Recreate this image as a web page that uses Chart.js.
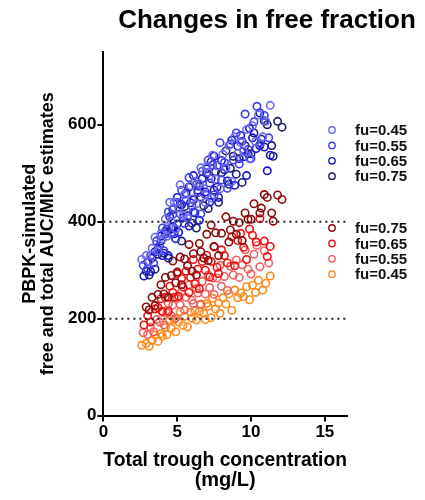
<!DOCTYPE html>
<html>
<head>
<meta charset="utf-8">
<script src="https://cdn.jsdelivr.net/npm/chart.js@4"></script>
<style>
  html, body { margin: 0; padding: 0; background: #fff; }
  #wrap { width: 425px; height: 500px; }
</style>
</head>
<body>
<div id="wrap"><canvas id="fuChart" width="425" height="500"></canvas></div>
<script>
// total trough concentration (mg/L) and AUC/MIC per simulated subject, one set per fu
var troughFu45 = [2.6,2.9,3.1,3.3,3.5,3.7,3.9,4.0,4.2,4.3,4.5,4.6,4.8,4.9,5.1,5.2,5.4,5.5,5.7,5.9,6.0,6.2,6.3,6.5,6.6,6.8,6.9,7.0,7.1,7.3,7.4,7.6,7.8,7.9,8.1,8.3,8.5,8.7,8.9,9.1,9.3,9.5,9.7,9.9,10.1,10.3,10.5,10.8,11.0,11.3];
var totalFu45  = [322,330,318,345,368,340,375,365,405,370,440,400,440,385,428,476,413,456,407,474,447,483,437,478,511,468,440,514,502,449,537,488,515,468,539,511,557,483,575,541,563,545,590,530,598,565,620,575,607,640];
var freeFu45   = [145,149,143,155,166,153,169,164,182,167,198,180,198,173,193,214,186,205,183,213,201,217,197,215,230,211,198,231,226,202,242,220,232,211,243,230,251,217,259,243,253,245,266,239,269,254,279,259,273,288];

var troughFu55 = [2.7,3.0,3.2,3.4,3.6,3.8,4.0,4.1,4.3,4.4,4.6,4.7,4.9,5.0,5.2,5.3,5.5,5.6,5.8,6.0,6.1,6.3,6.4,6.6,6.7,6.9,7.1,7.2,7.4,7.5,7.7,7.9,8.0,8.2,8.4,8.6,8.8,9.0,9.2,9.4,9.6,9.8,10.0,10.2,10.4,10.6,10.9,11.2];
var totalFu55  = [310,303,330,315,360,350,387,340,385,420,375,415,365,440,416,465,396,444,491,432,420,477,460,416,504,456,527,480,517,455,516,563,486,522,469,560,527,583,519,566,622,549,530,606,638,559,619,573];
var freeFu55   = [171,167,182,173,198,193,213,187,212,231,206,228,201,242,229,256,218,244,270,238,231,262,253,229,277,251,290,264,284,250,284,310,267,287,258,308,290,321,285,311,342,302,292,333,351,307,340,315];

var troughFu65 = [2.75,3.0,3.2,3.5,3.7,3.9,4.0,4.2,4.4,4.5,4.7,4.8,5.0,5.1,5.3,5.4,5.6,5.8,5.9,6.1,6.2,6.4,6.5,6.7,6.9,7.0,7.2,7.3,7.5,7.7,7.8,8.0,8.2,8.4,8.7,8.9,9.1,9.3,9.5,9.7,9.9,10.1,10.35,10.6,10.9,11.1,11.3];
var totalFu65  = [288,317,297,338,343,370,330,375,330,410,390,375,450,378,435,408,459,391,439,495,418,465,403,489,461,509,440,489,535,471,450,526,507,484,568,475,556,578,534,495,592,573,551,624,554,505,537];
var freeFu65   = [187,206,193,220,223,241,215,244,215,267,254,244,293,246,283,265,298,254,285,322,272,302,262,318,300,331,286,318,348,306,293,342,330,315,369,309,361,376,347,322,385,372,358,406,360,328,349];

var troughFu75 = [2.9,3.1,3.3,3.5,3.7,3.9,4.1,4.2,4.4,4.6,4.7,4.9,5.0,5.2,5.3,5.5,5.7,5.8,6.0,6.1,6.3,6.5,6.6,6.8,7.0,7.1,7.3,7.5,7.6,7.8,8.0,8.3,8.5,8.6,8.8,9.0,9.2,9.4,9.6,9.8,10.0,10.2,10.6,10.7,10.9,11.1,11.4,11.5,11.8,12.1];
var totalFu75  = [298,290,325,302,333,360,335,380,325,385,425,365,395,436,360,431,412,471,397,445,387,473,451,433,499,427,524,465,503,440,501,546,477,510,535,498,530,481,557,540,540,583,557,570,608,600,557,535,607,595];
var freeFu75   = [224,218,244,227,250,270,251,285,244,289,319,274,296,327,270,323,309,353,298,334,290,355,338,325,374,320,393,349,377,330,376,410,358,383,401,374,398,361,418,405,405,437,418,428,456,450,418,401,455,446];

var fuLabels = ['fu=0.45', 'fu=0.55', 'fu=0.65', 'fu=0.75'];
var totalColors = ['#6b6bf2', '#3e3ef0', '#1414d6', '#1e1e6e'];
var freeColors  = ['#ff8c1a', '#f06060', '#f01010', '#8b0a0a'];
var cutoffs = [200, 400];
var xTicks = [0, 5, 10, 15];
var yTicks = [0, 200, 400, 600];

var troughs = [troughFu45, troughFu55, troughFu65, troughFu75];
var totals = [totalFu45, totalFu55, totalFu65, totalFu75];
var frees = [freeFu45, freeFu55, freeFu65, freeFu75];

function pts(xs, ys) {
  return xs.map(function (x, i) { return { x: x, y: ys[i] }; });
}

var FONT = "'Liberation Sans', Arial, sans-serif";
var datasets = [];

cutoffs.forEach(function (c) {
  datasets.push({
    type: 'line',
    data: [{ x: 0, y: c }, { x: 16.5, y: c }],
    borderColor: '#222',
    borderWidth: 2,
    borderDash: [2, 4],
    pointRadius: 0,
    fill: false,
    group: 'none'
  });
});

for (var i = 0; i < 4; i++) {
  datasets.push({
    label: fuLabels[i],
    data: pts(troughs[i], totals[i]),
    borderColor: totalColors[i],
    backgroundColor: 'rgba(0,0,0,0)',
    borderWidth: 1.6,
    pointRadius: 3.7,
    group: 'total'
  });
}
for (var j = 3; j >= 0; j--) {
  datasets.push({
    label: fuLabels[j],
    data: pts(troughs[j], frees[j]),
    borderColor: freeColors[j],
    backgroundColor: 'rgba(0,0,0,0)',
    borderWidth: 1.6,
    pointRadius: 3.7,
    group: 'free'
  });
}

// title (offset to the right like the original) and two stacked legend blocks
var sideLegend = {
  id: 'sideLegend',
  afterDraw: function (chart) {
    var ctx = chart.ctx;
    var area = chart.chartArea;
    ctx.save();
    ctx.fillStyle = '#000';
    ctx.font = 'bold 26px ' + FONT;
    ctx.textAlign = 'center';
    ctx.textBaseline = 'middle';
    ctx.fillText('Changes in free fraction', 267, 21);

    var blocks = { total: area.top + 78, free: area.top + 176 };
    var count = { total: 0, free: 0 };
    ctx.font = 'bold 15px ' + FONT;
    ctx.textAlign = 'left';
    chart.data.datasets.forEach(function (ds) {
      if (ds.group === 'none') return;
      var y = blocks[ds.group] + count[ds.group] * 15.4;
      count[ds.group]++;
      ctx.beginPath();
      ctx.arc(332, y, 3.2, 0, Math.PI * 2);
      ctx.strokeStyle = ds.borderColor;
      ctx.lineWidth = 1.4;
      ctx.stroke();
      ctx.fillStyle = '#111';
      ctx.fillText(ds.label, 355, y + 1);
    });
    ctx.restore();
  }
};

new Chart(document.getElementById('fuChart').getContext('2d'), {
  type: 'scatter',
  data: { datasets: datasets },
  options: {
    responsive: false,
    animation: false,
    layout: { padding: { left: 17, right: 78, top: 52, bottom: 6 } },
    plugins: {
      legend: { display: false },
      tooltip: { enabled: false }
    },
    scales: {
      x: {
        type: 'linear',
        min: 0,
        max: 16.5,
        afterBuildTicks: function (s) { s.ticks = xTicks.map(function (v) { return { value: v }; }); },
        ticks: { color: '#000', font: { family: FONT, size: 17, weight: 'bold' }, padding: 1, maxRotation: 0 },
        grid: { drawOnChartArea: false, drawTicks: true, tickLength: 6, color: '#000', lineWidth: 2 },
        border: { color: '#000', width: 2 },
        title: {
          display: true,
          text: ['Total trough concentration', '(mg/L)'],
          color: '#000',
          font: { family: FONT, size: 20, weight: 'bold', lineHeight: 1.0 },
          padding: { top: 6 }
        }
      },
      y: {
        type: 'linear',
        min: 0,
        max: 750,
        afterBuildTicks: function (s) { s.ticks = yTicks.map(function (v) { return { value: v }; }); },
        ticks: { color: '#000', font: { family: FONT, size: 17, weight: 'bold' }, padding: 1 },
        grid: { drawOnChartArea: false, drawTicks: true, tickLength: 6, color: '#000', lineWidth: 2 },
        border: { color: '#000', width: 2 },
        title: {
          display: true,
          text: ['PBPK-simulated', 'free and total AUC/MIC estimates'],
          color: '#000',
          font: { family: FONT, size: 18, weight: 'bold', lineHeight: 1.0 },
          padding: { bottom: 10 }
        }
      }
    }
  },
  plugins: [sideLegend]
});
</script>
</body>
</html>
